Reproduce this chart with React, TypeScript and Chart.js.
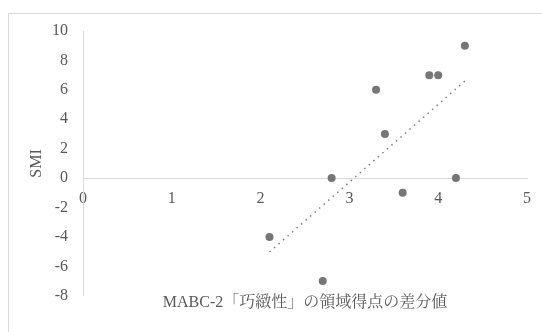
import React, { useEffect, useRef } from "react";
import { Chart, registerables } from "chart.js";

Chart.register(...registerables);

const diffScores = [4.3, 3.9, 4.0, 3.3, 3.4, 2.8, 4.2, 3.6, 2.1, 2.7];
const smiValues = [9, 7, 7, 6, 3, 0, 0, -1, -4, -7];
const xAxisTitle = "MABC-2「巧緻性」の領域得点の差分値";
const yAxisTitle = "SMI";

const FONT = '"Liberation Serif", "Noto Serif CJK JP", "Noto Sans CJK JP", serif';
const TEXT_COLOR = "#595959";
const AXIS_COLOR = "#d9d9d9";

function regression(xs: number[], ys: number[]) {
  const n = xs.length;
  const mx = xs.reduce((a, b) => a + b, 0) / n;
  const my = ys.reduce((a, b) => a + b, 0) / n;
  let sxy = 0;
  let sxx = 0;
  for (let i = 0; i < n; i++) {
    sxy += (xs[i] - mx) * (ys[i] - my);
    sxx += (xs[i] - mx) * (xs[i] - mx);
  }
  const slope = sxy / sxx;
  return { slope, intercept: my - slope * mx };
}

export default function App() {
  const ref = useRef<HTMLCanvasElement | null>(null);

  useEffect(() => {
    if (!ref.current) return;
    const { slope, intercept } = regression(diffScores, smiValues);
    const xMin = Math.min(...diffScores);
    const xMax = Math.max(...diffScores);
    const trend = [
      { x: xMin, y: slope * xMin + intercept },
      { x: xMax, y: slope * xMax + intercept },
    ];
    const points = diffScores.map((x, i) => ({ x, y: smiValues[i] }));

    const chart = new Chart(ref.current, {
      type: "scatter",
      data: {
        datasets: [
          {
            data: points,
            backgroundColor: "#767676",
            borderWidth: 0,
            pointRadius: 4,
          },
          {
            type: "line",
            data: trend,
            borderColor: "#7f7f7f",
            borderWidth: 1.5,
            borderDash: [1.5, 4.5],
            pointRadius: 0,
            fill: false,
          } as any,
        ],
      },
      options: {
        responsive: false,
        animation: false,
        layout: { padding: { left: 8, top: 31, right: 14, bottom: 20 } },
        plugins: {
          legend: { display: false },
          tooltip: { enabled: false },
          title: {
            display: true,
            text: xAxisTitle,
            position: "bottom",
            fullSize: false,
            color: TEXT_COLOR,
            font: { family: FONT, size: 16, weight: "normal" },
            padding: { top: -3, bottom: 0 },
          },
        },
        scales: {
          x: {
            type: "linear",
            position: { y: 0 } as any,
            min: 0,
            max: 5,
            ticks: {
              stepSize: 1,
              color: TEXT_COLOR,
              font: { family: FONT, size: 16 },
              padding: 11,
            },
            grid: { display: false, drawTicks: false },
            border: { display: true, color: AXIS_COLOR, width: 1 },
          },
          y: {
            type: "linear",
            position: "left",
            min: -8,
            max: 10,
            ticks: {
              stepSize: 2,
              color: TEXT_COLOR,
              font: { family: FONT, size: 16 },
              padding: 15,
            },
            grid: { display: false, drawTicks: false },
            border: { display: true, color: AXIS_COLOR, width: 1 },
            title: {
              display: true,
              text: yAxisTitle,
              color: TEXT_COLOR,
              font: { family: FONT, size: 16 },
              padding: { top: 19, bottom: 0 },
            },
            afterFit: (scale: any) => {
              scale.width = 75;
            },
          },
        },
      },
    });
    return () => chart.destroy();
  }, []);

  return (
    <div
      style={{
        position: "fixed",
        left: 0,
        top: 0,
        width: 542,
        height: 332,
        overflow: "hidden",
        background: "#fff",
      }}
    >
      <div
        style={{
          position: "absolute",
          left: 8,
          top: 13,
          width: 700,
          height: 500,
          border: `1px solid ${AXIS_COLOR}`,
          boxSizing: "border-box",
        }}
      />
      <canvas
        ref={ref}
        width={542}
        height={332}
        style={{ position: "absolute", left: 0, top: 0, width: 542, height: 332 }}
      />
    </div>
  );
}
